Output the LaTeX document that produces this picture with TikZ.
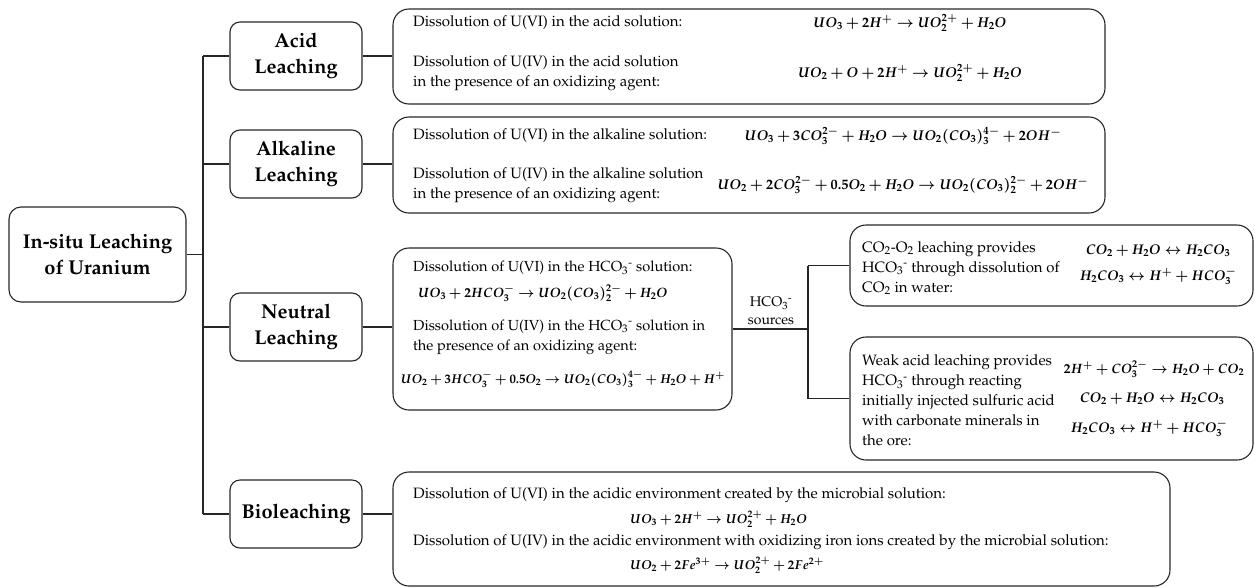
\documentclass[tikz,border=0pt]{standalone}
\usepackage[T1]{fontenc}
\usepackage{mathpazo}
\begin{document}
\begin{tikzpicture}[x=1pt,y=-1pt,
  lbl/.style={draw=black!85, line width=1.1pt, rounded corners=10pt, minimum width=132pt, minimum height=68pt, align=center, font=\fontsize{20}{26}\selectfont\bfseries, inner sep=0pt},
  cbox/.style={draw=black!85, line width=1.1pt, rounded corners=16pt, inner sep=0pt},
  txt/.style={anchor=west, align=left, font=\fontsize{15}{20}\selectfont, inner sep=0pt},
  eqn/.style={font=\fontsize{14.2}{20}\selectfont\boldmath, inner sep=0pt},
  eqs/.style={font=\fontsize{13.5}{20}\selectfont\boldmath, inner sep=0pt},
  eqt/.style={font=\fontsize{12.8}{20}\selectfont\boldmath, inner sep=0pt},
  conn/.style={draw=black!85, line width=1.1pt}]
\useasboundingbox (0,0) rectangle (1255,587);
% root
\node[lbl, rounded corners=12pt, minimum width=177pt, minimum height=95pt] (root) at (97.5,254.5) {In-situ Leaching\\of Uranium};
% level 1
\node[lbl] (acid) at (296,56) {Acid\\Leaching};
\node[lbl] (alk) at (296,164) {Alkaline\\Leaching};
\node[lbl] (neu) at (296,327) {Neutral\\Leaching};
\node[lbl] (bio) at (296,514) {Bioleaching};
\coordinate (bus) at (203,0);
\coordinate (bustwo) at (808,0);
% content boxes
\node[cbox, minimum width=712pt, minimum height=95pt] (acidbox) at (749,56.5) {};
\node[cbox, minimum width=712pt, minimum height=96pt] (alkbox) at (749,165) {};
\node[cbox, minimum width=339pt, minimum height=162pt] (neubox) at (562.5,329) {};
\node[cbox, minimum width=777pt, minimum height=114pt] (biobox) at (781.5,529) {};
\node[cbox, minimum width=403pt, minimum height=81pt] (cobox) at (1051.5,265.5) {};
\node[cbox, minimum width=403pt, minimum height=123pt] (weakbox) at (1051.5,398.5) {};
% connectors
\draw[conn] (root.east) -- (root.east -| bus);
\draw[conn] (acid.west -| bus) -- (bio.west -| bus);
\foreach \n in {acid,alk,neu,bio} {\draw[conn] (\n.west) -- (\n.west -| bus);}
\draw[conn] (acid.east) -- (acid.east -| acidbox.west);
\draw[conn] (alk.east) -- (alk.east -| alkbox.west);
\draw[conn] (neu.east) -- (neu.east -| neubox.west);
\draw[conn] (bio.east) -- (bio.east -| biobox.west);
\draw[conn] (neubox.east) -- (neubox.east -| bustwo);
\draw[conn] (cobox.west -| bustwo) -- (weakbox.west -| bustwo);
\draw[conn] (cobox.west -| bustwo) -- (cobox.west);
\draw[conn] (weakbox.west -| bustwo) -- (weakbox.west);
\node[align=center, font=\fontsize{14}{18}\selectfont, inner sep=0pt] (src) at (771,311) {HCO\textsubscript{3}\textsuperscript{-}\\sources};
% acid texts
\node[txt] (a1) at (413,23) {Dissolution of U(VI) in the acid solution:};
\node[txt] (a2) at (413,73) {Dissolution of U(IV) in the acid solution\\in the presence of an oxidizing agent:};
\node[eqn] (ae1) at (910,23) {$UO_3+2H^+\rightarrow UO_2^{2+}+H_2O$};
\node[eqn] (ae2) at (910,73) {$UO_2+O+2H^+\rightarrow UO_2^{2+}+H_2O$};
% alkaline texts
\node[txt] (k1) at (413,136) {Dissolution of U(VI) in the alkaline solution:};
\node[txt] (k2) at (413,185) {Dissolution of U(IV) in the alkaline solution\\in the presence of an oxidizing agent:};
\node[eqn] (ke1) at (903,136) {$UO_3+3CO_3^{2-}+H_2O\rightarrow UO_2(CO_3)_3^{4-}+2OH^-$};
\node[eqn] (ke2) at (903,185) {$UO_2+2CO_3^{2-}+0.5O_2+H_2O\rightarrow UO_2(CO_3)_2^{2-}+2OH^-$};
% neutral texts
\node[txt, font=\fontsize{14.6}{20}\selectfont] (n1) at (413,268) {Dissolution of U(VI) in the HCO\textsubscript{3}\textsuperscript{-} solution:};
\node[eqs, anchor=west] (ne1) at (418,293) {$UO_3+2HCO_3^-\rightarrow UO_2(CO_3)_2^{2-}+H_2O$};
\node[txt, font=\fontsize{14.6}{20}\selectfont] (n2) at (413,337) {Dissolution of U(IV) in the HCO\textsubscript{3}\textsuperscript{-} solution in\\the presence of an oxidizing agent:};
\node[eqt] (ne2) at (563,379) {$UO_2+3HCO_3^-+0.5O_2\rightarrow UO_2(CO_3)_3^{4-}+H_2O+H^+$};
% CO2-O2 texts
\node[txt] (c1) at (862,268) {CO\textsubscript{2}-O\textsubscript{2} leaching provides\\HCO\textsubscript{3}\textsuperscript{-} through dissolution of\\CO\textsubscript{2} in water:};
\node[eqn, font=\fontsize{14}{20}\selectfont\boldmath] (ce1) at (1158,251) {$CO_2+H_2O\leftrightarrow H_2CO_3$};
\node[eqn, font=\fontsize{14}{20}\selectfont\boldmath] (ce2) at (1158,276) {$H_2CO_3\leftrightarrow H^++HCO_3^-$};
% weak acid texts
\node[txt] (w1) at (862,400.5) {Weak acid leaching provides\\HCO\textsubscript{3}\textsuperscript{-} through reacting\\initially injected sulfuric acid\\with carbonate minerals in\\the ore:};
\node[eqs] (we1) at (1154,369) {$2H^++CO_3^{2-}\rightarrow H_2O+CO_2$};
\node[eqn, font=\fontsize{14}{20}\selectfont\boldmath] (we2) at (1152,399) {$CO_2+H_2O\leftrightarrow H_2CO_3$};
\node[eqn, font=\fontsize{14}{20}\selectfont\boldmath] (we3) at (1149,428) {$H_2CO_3\leftrightarrow H^++HCO_3^-$};
% bio texts
\node[txt] (b1) at (413,495) {Dissolution of U(VI) in the acidic environment created by the microbial solution:};
\node[eqs, font=\fontsize{13}{20}\selectfont\boldmath, anchor=west] (be1) at (630,519) {$UO_3+2H^+\rightarrow UO_2^{2+}+H_2O$};
\node[txt] (b2) at (413,542) {Dissolution of U(IV) in the acidic environment with oxidizing iron ions created by the microbial solution:};
\node[eqs, font=\fontsize{13}{20}\selectfont\boldmath, anchor=west] (be2) at (630,565) {$UO_2+2Fe^{3+}\rightarrow UO_2^{2+}+2Fe^{2+}$};
\end{tikzpicture}
\end{document}
